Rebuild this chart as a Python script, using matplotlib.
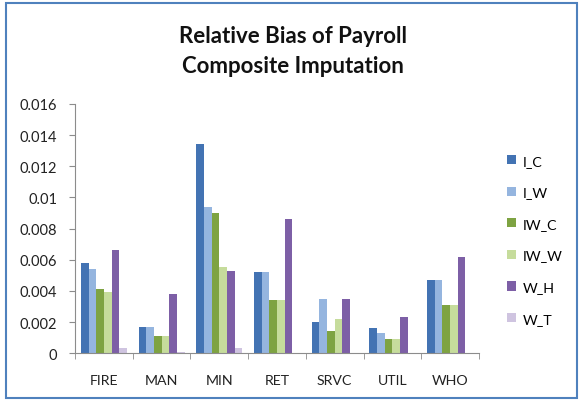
import matplotlib.pyplot as plt
import numpy as np
from matplotlib.patches import Rectangle

plt.rcParams["font.family"] = ["Lato", "DejaVu Sans"]

categories = ["FIRE", "MAN", "MIN", "RET", "SRVC", "UTIL", "WHO"]
series = ["I_C", "I_W", "IW_C", "IW_W", "W_H", "W_T"]

i_c = [0.0058, 0.0017, 0.0134, 0.0052, 0.0020, 0.0016, 0.0047]
i_w = [0.0054, 0.0017, 0.0094, 0.0052, 0.0035, 0.0013, 0.0047]
iw_c = [0.0041, 0.0011, 0.0090, 0.0034, 0.0014, 0.0009, 0.0031]
iw_w = [0.0039, 0.0011, 0.0055, 0.0034, 0.0022, 0.0009, 0.0031]
w_h = [0.0066, 0.0038, 0.0053, 0.0086, 0.0035, 0.0023, 0.0062]
w_t = [0.00035, 0.00005, 0.0003, 0.0, 0.0, 0.0, 0.0]

values = [i_c, i_w, iw_c, iw_w, w_h, w_t]
colors = ["#4373b3", "#95b5df", "#7ea342", "#c6dc9c", "#7d5fa6", "#cfc4e0"]

fig = plt.figure(figsize=(5.82, 4.02), dpi=100)
ax = fig.add_axes([0.129, 0.119, 0.694, 0.620])

x = np.arange(len(categories))
w = 0.133
for k, (vals, col, name) in enumerate(zip(values, colors, series)):
    ax.bar(x - 3 * w + w * (k + 0.5), vals, width=w, color=col, label=name)

ax.set_xlim(-0.5, len(categories) - 0.5)
ax.set_ylim(0, 0.016)
ax.set_yticks(np.arange(0, 0.0161, 0.002))
ax.set_yticklabels(["0", "0.002", "0.004", "0.006", "0.008", "0.01",
                    "0.012", "0.014", "0.016"])
ax.set_xticks(x)
ax.set_xticklabels(categories)
ax.set_xticks(np.arange(-0.5, len(categories)), minor=True)
ax.tick_params(axis="x", which="major", length=0, pad=15, labelsize=10.2,
               colors="#222222")
ax.tick_params(axis="x", which="minor", length=4, color="#8c8c8c")
ax.tick_params(axis="y", length=4, color="#8c8c8c", labelsize=10.5,
               colors="#222222", pad=9)

for s in ["top", "right"]:
    ax.spines[s].set_visible(False)
for s in ["left", "bottom"]:
    ax.spines[s].set_color("#8c8c8c")

fig.text(0.503, 0.908, "Relative Bias of Payroll", ha="center", va="center",
         fontsize=16, fontweight="bold", color="#111111")
fig.text(0.503, 0.834, "Composite Imputation", ha="center", va="center",
         fontsize=16, fontweight="bold", color="#111111")

fig.legend(loc="upper left", bbox_to_anchor=(0.862, 0.627), frameon=False,
           fontsize=10.3, handlelength=0.6, handleheight=0.6,
           handletextpad=0.5, labelspacing=1.37, borderaxespad=0)

fig.patches.append(Rectangle((0.01, 0.008), 0.982, 0.982,
                             transform=fig.transFigure, fill=False,
                             edgecolor="#4f81bd", linewidth=1.5))

plt.savefig("out.png", dpi=100)
